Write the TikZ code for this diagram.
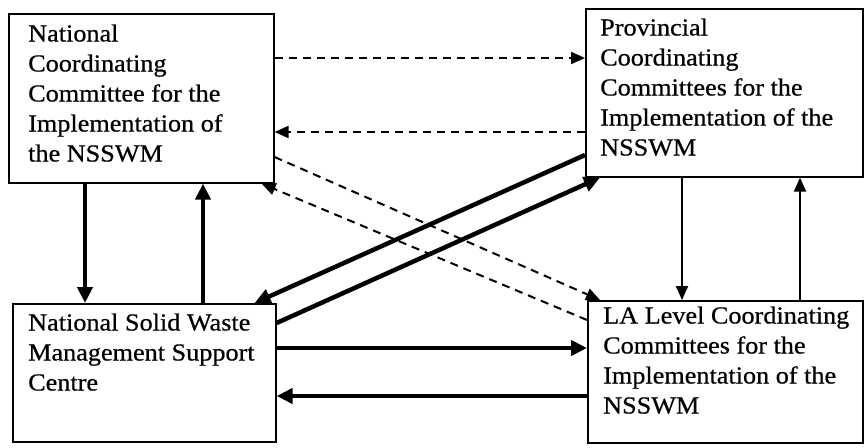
\documentclass[tikz,border=0pt]{standalone}
\usepackage{fontspec}
\setmainfont{Liberation Serif}[FakeStretch=1.07,FakeBold=0.6]
\usetikzlibrary{arrows.meta}
\begin{document}
\begin{tikzpicture}[x=1pt,y=-1pt,
  box/.style={draw, line width=1.6pt, rectangle, inner sep=0pt, anchor=north west},
  txt/.style={anchor=north west, inner sep=0pt, align=left, font=\fontsize{24.5}{30}\selectfont},
  dsh/.style={line width=2pt, dash pattern=on 8pt off 6pt, -{Triangle[length=14pt,width=12pt]}},
  thk/.style={line width=4.5pt, -{Triangle[length=16pt,width=15pt]}},
  thn/.style={line width=1.8pt, -{Triangle[length=14pt,width=12pt]}}]
\useasboundingbox (0,0) rectangle (864,447);
% boxes
\node[box, minimum width=265pt, minimum height=169pt] (A) at (8,13) {};
\node[box, minimum width=277pt, minimum height=168pt] (B) at (585,8) {};
\node[box, minimum width=263pt, minimum height=138pt] (C) at (12,303) {};
\node[box, minimum width=275pt, minimum height=142pt] (D) at (587,300) {};
% texts
\node[txt] (At) at (28,24.3) {National\\Coordinating\\Committee for the\\Implementation of\\the NSSWM};
\node[txt] (Bt) at (600,18.3) {Provincial\\Coordinating\\Committees for the\\Implementation of the\\NSSWM};
\node[txt] (Ct) at (28,313.3) {National Solid Waste\\Management Support\\Centre};
\node[txt] (Dt) at (603,306.3) {LA Level Coordinating\\Committees for the\\Implementation of the\\NSSWM};
% dashed connectors
\draw[dsh] ([yshift=-45pt]A.north east) coordinate (d1) -- (d1 -| B.west);
\draw[dsh] ([yshift=-124pt]B.north west) coordinate (d2) -- (d2 -| A.east);
\draw[dsh] ([yshift=-144pt]A.north east) -- ([xshift=13pt]D.north west);
\draw[dsh] ([yshift=-20pt]D.north west) -- ([xshift=-13pt]A.south east);
% thick diagonals
\draw[thk] ([yshift=-147pt]B.north west) -- ([xshift=-22pt]C.north east);
\draw[thk] ([yshift=-20pt]C.north east) -- ([xshift=15pt]B.south west);
% thick verticals
\draw[thk] ([xshift=77pt]A.south west) coordinate (v1) -- (v1 |- C.north);
\draw[thk] ([xshift=191pt]C.north west) coordinate (v2) -- (v2 |- A.south);
% thick horizontals
\draw[thk] ([yshift=-45pt]C.north east) coordinate (h1) -- (h1 -| D.west);
\draw[thk] ([yshift=-96pt]D.north west) coordinate (h2) -- (h2 -| C.east);
% thin verticals
\draw[thn] ([xshift=97pt]B.south west) coordinate (t1) -- (t1 |- D.north);
\draw[thn] ([xshift=213pt]D.north west) coordinate (t2) -- (t2 |- B.south);
\end{tikzpicture}
\end{document}
